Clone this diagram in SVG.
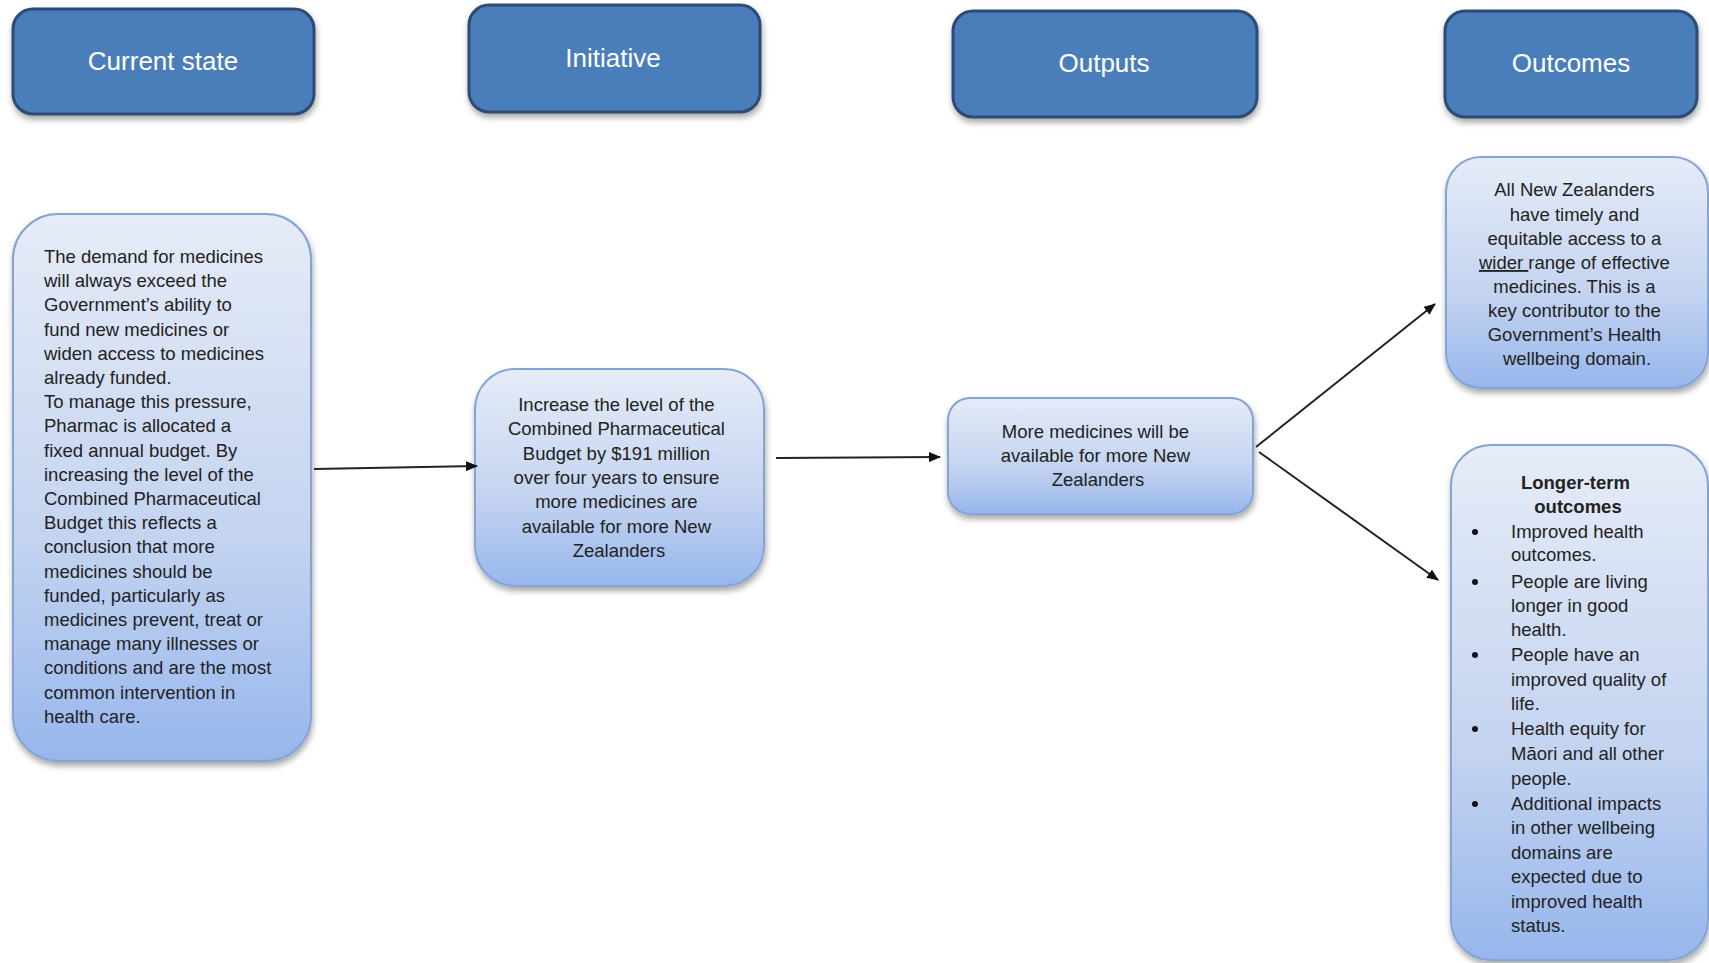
<svg xmlns="http://www.w3.org/2000/svg" width="1709" height="963" viewBox="0 0 1709 963">
<defs>
<linearGradient id="bodyGrad" x1="0" y1="0" x2="0" y2="1">
<stop offset="0" stop-color="#e6ecf7"/>
<stop offset="0.6" stop-color="#c3d3f0"/>
<stop offset="1" stop-color="#97b6ec"/>
</linearGradient>
<filter id="shadow" x="-10%" y="-10%" width="120%" height="125%">
<feGaussianBlur in="SourceAlpha" stdDeviation="3"/>
<feOffset dx="1" dy="4" result="b"/>
<feComponentTransfer><feFuncA type="linear" slope="0.35"/></feComponentTransfer>
<feMerge><feMergeNode/><feMergeNode in="SourceGraphic"/></feMerge>
</filter>
<marker id="arrow" viewBox="0 0 12 10" refX="11" refY="5" markerWidth="12" markerHeight="10" markerUnits="userSpaceOnUse" orient="auto">
<path d="M0,0 L12,5 L0,10 Z" fill="#111"/>
</marker>
</defs>
<style>
.head{fill:#4a7ebb;stroke:#2d4b75;stroke-width:3;}
.headtxt{font-family:"Liberation Sans",Arial,sans-serif;font-size:26px;fill:#ffffff;text-anchor:middle;}
.body{fill:url(#bodyGrad);stroke:#84a4d6;stroke-width:2;}
.t{font-family:"Liberation Sans",Arial,sans-serif;font-size:18.5px;fill:#222222;}
.c{text-anchor:middle;}
.b{font-weight:bold;}
.conn{stroke:#222;stroke-width:2;fill:none;}
</style>
<rect width="1709" height="963" fill="#ffffff"/>

<g id="head-current">
<rect class="head" x="13" y="9" width="301" height="105" rx="20" filter="url(#shadow)"/>
<text class="headtxt" x="163" y="70">Current state</text>
</g>
<g id="head-initiative">
<rect class="head" x="469" y="5" width="291" height="107" rx="20" filter="url(#shadow)"/>
<text class="headtxt" x="613" y="67">Initiative</text>
</g>
<g id="head-outputs">
<rect class="head" x="953" y="11" width="304" height="106" rx="20" filter="url(#shadow)"/>
<text class="headtxt" x="1104" y="72">Outputs</text>
</g>
<g id="head-outcomes">
<rect class="head" x="1445" y="11" width="252" height="106" rx="20" filter="url(#shadow)"/>
<text class="headtxt" x="1571" y="72">Outcomes</text>
</g>

<g id="current-state">
<rect class="body" x="13" y="214" width="298" height="547" rx="45" filter="url(#shadow)"/>
<text class="t">
<tspan x="44" y="263">The demand for medicines</tspan>
<tspan x="44" y="287.2">will always exceed the</tspan>
<tspan x="44" y="311.4">Government’s ability to</tspan>
<tspan x="44" y="335.6">fund new medicines  or</tspan>
<tspan x="44" y="359.8">widen access to medicines</tspan>
<tspan x="44" y="384">already funded.</tspan>
<tspan x="44" y="408.2">To manage this pressure,</tspan>
<tspan x="44" y="432.4">Pharmac is allocated  a</tspan>
<tspan x="44" y="456.6">fixed annual budget. By</tspan>
<tspan x="44" y="480.8">increasing  the level of the</tspan>
<tspan x="44" y="505">Combined Pharmaceutical</tspan>
<tspan x="44" y="529.2">Budget this reflects a</tspan>
<tspan x="44" y="553.4">conclusion  that more</tspan>
<tspan x="44" y="577.6">medicines should  be</tspan>
<tspan x="44" y="601.8">funded, particularly as</tspan>
<tspan x="44" y="626">medicines prevent, treat or</tspan>
<tspan x="44" y="650.2">manage many illnesses  or</tspan>
<tspan x="44" y="674.4">conditions  and are the most</tspan>
<tspan x="44" y="698.6">common intervention  in</tspan>
<tspan x="44" y="722.8">health care.</tspan>
</text>
</g>

<g id="initiative">
<rect class="body" x="475" y="369" width="289" height="217" rx="40" filter="url(#shadow)"/>
<text class="t c">
<tspan x="619" y="411">Increase the level of the</tspan>
<tspan x="619" y="435.3">Combined Pharmaceutical</tspan>
<tspan x="619" y="459.6">Budget by $191 million</tspan>
<tspan x="619" y="483.9">over four years to ensure</tspan>
<tspan x="619" y="508.2">more medicines are</tspan>
<tspan x="619" y="532.5">available  for more New</tspan>
<tspan x="619" y="556.8">Zealanders</tspan>
</text>
</g>

<g id="outputs">
<rect class="body" x="948" y="398" width="305" height="116" rx="22" filter="url(#shadow)"/>
<text class="t c">
<tspan x="1098" y="438">More medicines will be</tspan>
<tspan x="1098" y="462">available  for more New</tspan>
<tspan x="1098" y="486">Zealanders</tspan>
</text>
</g>

<g id="outcome-short">
<rect class="body" x="1446" y="157" width="262" height="231" rx="35" filter="url(#shadow)"/>
<text class="t c">
<tspan x="1577" y="196">All New Zealanders</tspan>
<tspan x="1577" y="221">have timely and</tspan>
<tspan x="1577" y="245">equitable access  to a</tspan>
<tspan x="1577" y="269"><tspan text-decoration="underline">wider </tspan>range of effective</tspan>
<tspan x="1577" y="293">medicines.  This is a</tspan>
<tspan x="1577" y="317">key contributor to the</tspan>
<tspan x="1577" y="341">Government’s Health</tspan>
<tspan x="1577" y="365">wellbeing  domain.</tspan>
</text>
</g>

<g id="outcome-long">
<rect class="body" x="1451" y="445" width="257" height="515" rx="40" filter="url(#shadow)"/>
<text class="t c b">
<tspan x="1578" y="489">Longer-term</tspan>
<tspan x="1578" y="513">outcomes</tspan>
</text>
<g fill="#111">
<circle cx="1475" cy="532" r="3"/>
<circle cx="1475" cy="582" r="3"/>
<circle cx="1475" cy="655" r="3"/>
<circle cx="1475" cy="729" r="3"/>
<circle cx="1475" cy="804" r="3"/>
</g>
<text class="t">
<tspan x="1511" y="538">Improved health</tspan>
<tspan x="1511" y="561">outcomes.</tspan>
<tspan x="1511" y="588">People are living</tspan>
<tspan x="1511" y="612">longer in good</tspan>
<tspan x="1511" y="636">health.</tspan>
<tspan x="1511" y="661">People have an</tspan>
<tspan x="1511" y="686">improved quality of</tspan>
<tspan x="1511" y="710">life.</tspan>
<tspan x="1511" y="735">Health equity for</tspan>
<tspan x="1511" y="760">Māori and all other</tspan>
<tspan x="1511" y="785">people.</tspan>
<tspan x="1511" y="810">Additional impacts</tspan>
<tspan x="1511" y="834">in other wellbeing</tspan>
<tspan x="1511" y="859">domains are</tspan>
<tspan x="1511" y="883">expected due to</tspan>
<tspan x="1511" y="908">improved health</tspan>
<tspan x="1511" y="932">status.</tspan>
</text>
</g>

<g id="connectors">
<line class="conn" x1="314" y1="469" x2="477" y2="466" marker-end="url(#arrow)"/>
<line class="conn" x1="776" y1="458" x2="940" y2="457" marker-end="url(#arrow)"/>
<line class="conn" x1="1256" y1="447" x2="1435" y2="304" marker-end="url(#arrow)"/>
<line class="conn" x1="1259" y1="452" x2="1438" y2="580" marker-end="url(#arrow)"/>
</g>
</svg>
